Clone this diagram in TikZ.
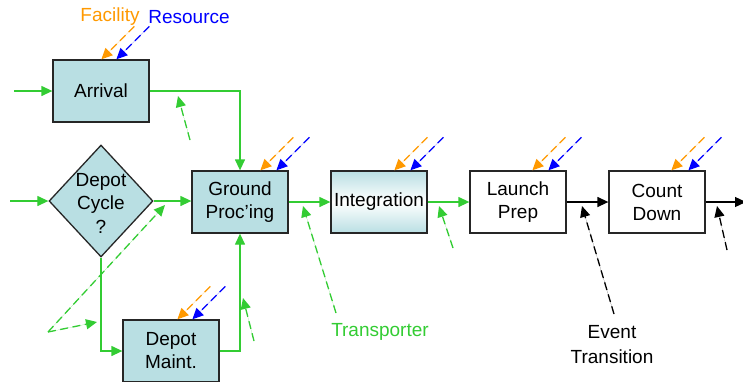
\documentclass[tikz,border=0pt]{standalone}
\usepackage{fontspec}
\setmainfont{Liberation Sans}
\usetikzlibrary{shapes.geometric,arrows.meta,calc}
\definecolor{tealbox}{RGB}{185,223,227}
\definecolor{gline}{RGB}{51,204,51}
\definecolor{facor}{RGB}{255,153,0}
\definecolor{resbl}{RGB}{0,0,255}
\newcommand\dfs{\fontsize{19}{23}\selectfont}
\begin{document}
\begin{tikzpicture}[x=1pt,y=-1pt,
  box/.style={draw=black!85,line width=1.3pt,minimum width=96pt,minimum height=62pt,inner sep=0pt,align=center,font=\dfs},
  tip/.style={-{Triangle[length=11pt,width=10pt]}},
  flow/.style={tip,draw=gline,line width=1.3pt},
  evflow/.style={tip,draw=black,line width=1.3pt},
  dsh/.style={dash pattern=on 8pt off 4.5pt,line width=1.3pt,tip},
  transp/.style={dsh,draw=gline,fill=gline},
  event/.style={dsh,draw=black,fill=black},
  facarrow/.style={dsh,draw=facor,fill=facor},
  resarrow/.style={dsh,draw=resbl,fill=resbl},
  lbl/.style={font=\dfs,align=center,inner sep=0pt}]
\useasboundingbox (0,0) rectangle (743,381);

% boxes
\node[box,fill=tealbox] (arr) at (101,91) {Arrival};
\node[box,fill=tealbox] (gp) at (240,202) {Ground\\Proc’ing};
\node[box,top color=tealbox,bottom color=tealbox,middle color=white] (int) at (379,202) {Integration};
\node[box] (lp) at (518,202) {Launch\\Prep};
\node[box] (cd) at (657,202) {Count\\Down};
\node[box,fill=tealbox] (dm) at (171,351) {Depot\\Maint.};
\node[diamond,draw=black!85,line width=1.3pt,fill=tealbox,inner sep=0pt,
      minimum width=104pt,minimum height=112pt,
      label={[lbl,font={\fontsize{19}{23.5}\selectfont},yshift=-2pt]center:Depot\\Cycle\\?}] (dc) at (101,201) {};

% free ends
\coordinate (inA) at (14,91);
\coordinate (inD) at (10,201);
\coordinate (outC) at (746,202);

% flows
\draw[flow] (inA) -- (arr);
\draw[flow] (inD) -- (dc);
\draw[flow] (dc.east) -- (dc.east -| gp.west);
\draw[flow] (arr.east) -| (gp.north);
\draw[flow] (dc.south) |- (dm.west);
\draw[flow] (dm.east) -| (gp.south);
\draw[flow] (gp) -- (int);
\draw[flow] (int) -- (lp);
\draw[evflow] (lp) -- (cd);
\draw[evflow] (cd) -- (outC);

% facility / resource arrows
\foreach \b/\o/\r in {arr/49/64, gp/69/85, int/64/80, lp/63/79, cd/63/80, dm/55/70}{
  \draw[facarrow] ($(\b.north west)+(\o+33,-33)$) -- ($(\b.north west)+(\o,0)$);
  \draw[resarrow] ($(\b.north west)+(\r+33,-33)$) -- ($(\b.north west)+(\r,0)$);
}

% transporter arrows
\coordinate (t1a) at (190,140); \coordinate (t1b) at (178,96);
\coordinate (t2a) at (48,332);  \coordinate (t2b) at (165,205); \coordinate (t2c) at (97,322);
\coordinate (t3a) at (336,313); \coordinate (t3b) at (303,206);
\coordinate (t4a) at (453,248); \coordinate (t4b) at (439,206);
\coordinate (t5a) at (254,341); \coordinate (t5b) at (243,298);
\draw[transp] (t1a) -- (t1b);
\draw[transp] (t2a) -- (t2b);
\draw[transp] (t2a) -- (t2c);
\draw[transp] (t3a) -- (t3b);
\draw[transp] (t4a) -- (t4b);
\draw[transp] (t5a) -- (t5b);

% event transition arrows
\coordinate (e1a) at (614,314); \coordinate (e1b) at (582,206);
\coordinate (e2a) at (727,250); \coordinate (e2b) at (717,206);
\draw[event] (e1a) -- (e1b);
\draw[event] (e2a) -- (e2b);

% labels
\node[lbl,text=facor] (fac) at (110,17) {Facility};
\node[lbl,text=resbl] (res) at (189,17) {Resource};
\node[lbl,text=gline] (tr) at (380,332) {Transporter};
\node[lbl,font={\fontsize{19}{25}\selectfont}] (et) at (612,344.5) {Event\\Transition};
\end{tikzpicture}
\end{document}
